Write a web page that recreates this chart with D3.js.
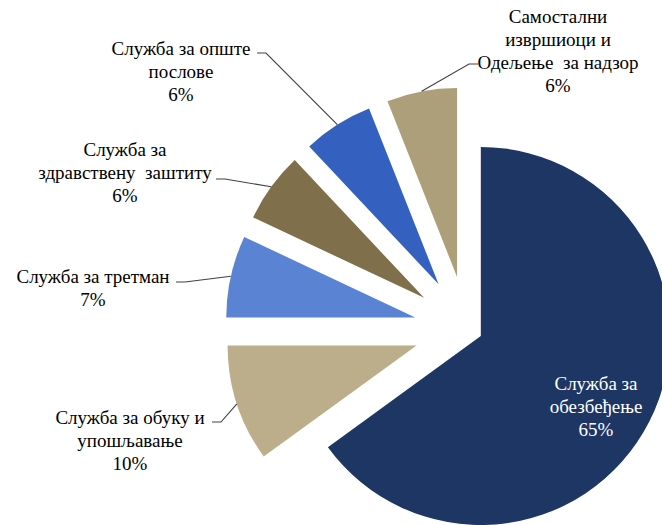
<meta charset="utf-8">
<script src="https://d3js.org/d3.v7.min.js"></script>
<style>
  body { margin: 0; background: #fff; }
  text { font-family: "Liberation Serif", "Times New Roman", serif; }
</style>
<body>
<div id="chart"></div>
<script>

var width = 662
var height = 525

// data, clockwise from 12 o'clock
var categories = ["Служба за обезбеђење", "Служба за обуку и упошљавање", "Служба за третман",
                  "Служба за здравствену заштиту", "Служба за опште послове",
                  "Самостални извршиоци и Одељење за надзор"]
var shares = [65, 10, 7, 6, 6, 6]
var labelLines = [
  ["Служба за", "обезбеђење"],
  ["Служба за обуку и", "упошљавање"],
  ["Служба за третман"],
  ["Служба за", "здравствену  заштиту"],
  ["Служба за опште", "послове"],
  ["Самостални", "извршиоци и", "Одељење  за надзор"]
]
var colors = ["#1d3664", "#bcae8b", "#5b83d3", "#7f704b", "#3461c0", "#ac9f79"]

// layout of the (hand placed) data labels: centre x, first line y, leader start
var labelPos = [
  { x: 596, y: 383, lead: null },
  { x: 130, y: 417, lead: [212, 422, 1] },
  { x: 93,  y: 276, lead: [176, 282, 1] },
  { x: 125, y: 149, lead: [216, 179, 1] },
  { x: 181, y: 48,  lead: [257, 53, 1] },
  { x: 558, y: 16,  lead: [478, 64, -1] }
]

var cx = 467, cy = 329, radius = 189
var lineH = 23

var svg = d3.select("#chart").append("svg")
    .attr("width", width)
    .attr("height", height)

var data = categories.map(function(c, i){ return { key: c, value: shares[i], i: i } })

var pie = d3.pie().sort(null).value(function(d){ return d.value })
var arc = d3.arc().innerRadius(0).outerRadius(radius)

var slices = pie(data)

// every slice is pulled out, the big one less
function explode(d) {
  return d.data.i === 0 ? 15.5 : 53
}
function dir(a) { return [Math.sin(a), -Math.cos(a)] }

var g = svg.append("g").attr("transform", "translate(" + cx + "," + cy + ")")

g.selectAll("path")
  .data(slices)
  .enter()
  .append("path")
    .attr("d", arc)
    .attr("fill", function(d){ return colors[d.data.i] })
    .attr("transform", function(d){
      var m = (d.startAngle + d.endAngle) / 2, v = dir(m), e = explode(d)
      return "translate(" + (v[0] * e) + "," + (v[1] * e) + ")"
    })

// leader lines
slices.forEach(function(d){
  var p = labelPos[d.data.i]
  if (!p.lead) return
  var m = (d.startAngle + d.endAngle) / 2, v = dir(m), r = radius + explode(d)
  var end = [cx + v[0] * r, cy + v[1] * r]
  var stubX = p.lead[0] + p.lead[2] * 9
  svg.append("polyline")
    .attr("points", [[p.lead[0], p.lead[1]], [stubX, p.lead[1]], end].map(function(q){ return q.join(",") }).join(" "))
    .attr("fill", "none")
    .attr("stroke", "#404040")
    .attr("stroke-width", 1.1)
})

// labels
slices.forEach(function(d){
  var i = d.data.i, p = labelPos[i]
  var lines = labelLines[i].concat([shares[i] + "%"])
  var t = svg.append("text")
    .attr("text-anchor", "middle")
    .attr("font-size", "19px")
    .attr("fill", i === 0 ? "#ffffff" : "#000000")
    .style("white-space", "pre")
  lines.forEach(function(s, k){
    t.append("tspan")
      .attr("x", p.x)
      .attr("y", p.y + k * lineH)
      .attr("dominant-baseline", "central")
      .text(s)
  })
})

</script>
</body>
